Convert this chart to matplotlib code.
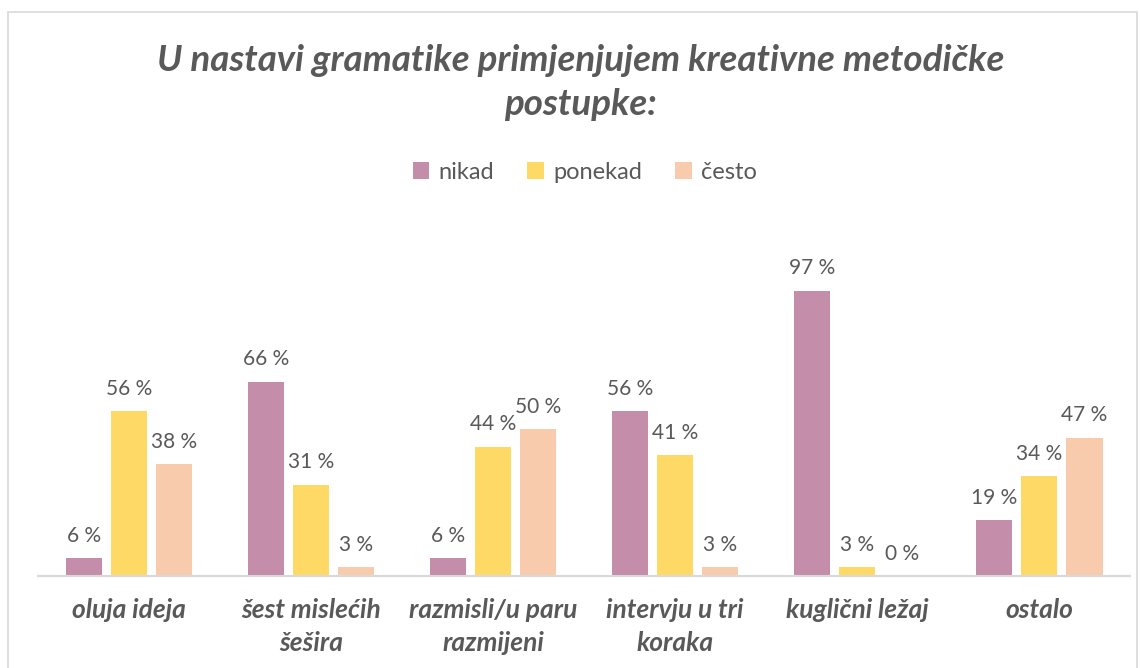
import numpy as np
import matplotlib
matplotlib.use("Agg")
import matplotlib.pyplot as plt
from matplotlib.patches import Rectangle

# podaci
kategorije = ["oluja ideja", "šest mislećih\nšešira", "razmisli/u paru\nrazmijeni",
              "intervju u tri\nkoraka", "kuglični ležaj", "ostalo"]
nikad = [6, 66, 6, 56, 97, 19]
ponekad = [56, 31, 44, 41, 3, 34]
cesto = [38, 3, 50, 3, 0, 47]
serije = ["nikad", "ponekad", "često"]
boje = ["#C48EAA", "#FFD966", "#F8CBAD"]

plt.rcParams['font.family'] = ['Lato', 'DejaVu Sans']
siva = "#595959"

fig = plt.figure(figsize=(11.4, 6.68), dpi=100)
ax = fig.add_axes([0.0333, 0.1377, 0.958, 0.4401])

x = np.arange(len(kategorije))
korak = 0.249
sirina = 0.199
for i, (vrijednosti, ime, boja) in enumerate(zip([nikad, ponekad, cesto], serije, boje)):
    pos = x + (i - 1) * korak
    ax.bar(pos, vrijednosti, sirina, color=boja, label=ime, zorder=2)
    for p, v in zip(pos, vrijednosti):
        ax.annotate(f"{v} %", (p, v), xytext=(0, 9), textcoords="offset points",
                    ha="center", va="bottom", fontsize=15, color=siva,
                    annotation_clip=False)

ax.set_xlim(-0.5, len(kategorije) - 0.5)
ax.set_ylim(0, 100)
ax.set_yticks([])
ax.set_xticks(x)
ax.set_xticklabels(kategorije, fontsize=19, fontweight="bold", style="italic",
                   color=siva, linespacing=1.45)
ax.tick_params(axis="x", length=0, pad=16)
for s in ["top", "left", "right"]:
    ax.spines[s].set_visible(False)
ax.spines["bottom"].set_color("#D9D9D9")
ax.spines["bottom"].set_linewidth(1.5)

# naslov
fig.text(0.509, 0.91, "U nastavi gramatike primjenjujem kreativne metodičke",
         ha="center", va="center", fontsize=26.5, fontweight="bold", style="italic",
         color=siva)
fig.text(0.509, 0.843, "postupke:", ha="center", va="center", fontsize=26.5,
         fontweight="bold", style="italic", color=siva)

fig.legend(loc="center", bbox_to_anchor=(0.513, 0.742), ncol=3, frameon=False,
           fontsize=17, handlelength=0.7, handleheight=0.7, handletextpad=0.4,
           columnspacing=1.4, labelcolor=siva)

# okvir
fig.patches.append(Rectangle((0.007, -0.01), 0.99, 0.992, transform=fig.transFigure,
                             fill=False, edgecolor="#D9D9D9", linewidth=1.2))

fig.savefig("out.png", dpi=100)
